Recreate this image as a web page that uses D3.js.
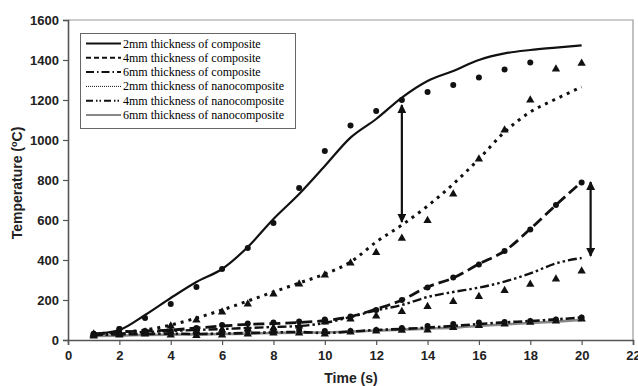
<!DOCTYPE html>
<html>
<head>
<meta charset="utf-8">
<script src="https://cdn.jsdelivr.net/npm/d3@7"></script>
<style>
  body { margin: 0; background: #fff; }
  svg { display: block; }
</style>
</head>
<body>
<svg id="chart"></svg>
<script>
// time steps (s)
const times = [1, 2, 3, 4, 5, 6, 7, 8, 9, 10, 11, 12, 13, 14, 15, 16, 17, 18, 19, 20];

// model curves (°C)
const comp2mm = [30, 50, 125, 210, 290, 355, 465, 605, 730, 870, 1012, 1105, 1212, 1295, 1345, 1400, 1433, 1450, 1462, 1473];
const nano2mm = [30, 40, 50, 75, 110, 150, 195, 240, 285, 330, 390, 490, 575, 670, 780, 905, 1040, 1140, 1205, 1265];
const comp4mm = [30, 40, 45, 50, 60, 70, 78, 82, 88, 97, 117, 155, 200, 265, 310, 380, 445, 555, 675, 790];
const nano4mm = [28, 32, 40, 45, 50, 55, 60, 65, 70, 85, 115, 148, 175, 215, 240, 262, 292, 333, 383, 410];
const comp6mm = [25, 28, 30, 32, 30, 32, 35, 38, 40, 35, 42, 50, 55, 62, 70, 80, 88, 95, 103, 113];
const nano6mm = [20, 22, 25, 27, 28, 30, 32, 35, 37, 38, 42, 47, 52, 57, 62, 70, 78, 85, 92, 100];

// measured points (°C)
const expComp2mm = [30, 55, 110, 180, 265, 355, 460, 585, 760, 945, 1072, 1145, 1200, 1240, 1275, 1313, 1353, 1387];
const expNano2mm = [30, 35, 40, 70, 100, 140, 180, 230, 280, 325, 385, 437, 508, 597, 730, 905, 1050, 1200, 1355, 1383];
const expComp4mm = [30, 55, 45, 45, 60, 75, 82, 88, 92, 103, 118, 150, 200, 263, 312, 378, 445, 553, 675, 788];
const expNano4mm = [25, 30, 35, 40, 45, 50, 55, 60, 70, 90, 105, 120, 142, 167, 192, 217, 247, 278, 305, 345];
const expComp6mm = [30, 35, 40, 35, 40, 45, 48, 50, 50, 45, 45, 50, 60, 70, 80, 87, 90, 95, 103, 113];
const expNano6mm = [20, 25, 30, 25, 22, 25, 30, 35, 35, 30, 40, 45, 48, 50, 62, 72, 80, 88, 95, 105];

// annotation arrows: [time, from, to]
const arrows = [[13, 1175, 590], [20.35, 790, 420]];

const xTicks = [0, 2, 4, 6, 8, 10, 12, 14, 16, 18, 20, 22];
const yTicks = [0, 200, 400, 600, 800, 1000, 1200, 1400, 1600];

const legendLabels = [
    '2mm thickness of composite',
    '4mm thickness of composite',
    '6mm thickness of composite',
    '2mm thickness of nanocomposite',
    '4mm thickness of nanocomposite',
    '6mm thickness of nanocomposite'
];

const width = 638, height = 386;
const svg = d3.select('#chart').attr('width', width).attr('height', height);

const x = d3.scaleLinear().domain([0, 22]).range([68, 633]);
const y = d3.scaleLinear().domain([0, 1600]).range([340, 20]);

// frame (top/right in light grey)
svg.append('path')
    .attr('d', `M${x(0)},${y(1600)}H${x(22)}V${y(0)}`)
    .attr('fill', 'none')
    .attr('stroke', '#999')
    .attr('stroke-width', 1.2);

// axes
const yAxis = svg.append('g')
    .attr('transform', `translate(${x(0)},0)`)
    .call(d3.axisLeft(y).tickValues(yTicks).tickFormat(d3.format('d')).tickSize(5).tickPadding(4));
const xAxis = svg.append('g')
    .attr('transform', `translate(0,${y(0)})`)
    .call(d3.axisBottom(x).tickValues(xTicks).tickFormat(d3.format('d')).tickSize(5).tickPadding(6));

[xAxis, yAxis].forEach(g => {
    g.select('.domain').attr('stroke', '#555').attr('stroke-width', 1.6);
    g.selectAll('.tick line').attr('stroke', '#555').attr('stroke-width', 1.2);
    g.selectAll('.tick text')
        .attr('fill', '#222')
        .style('font-family', 'Arial, "Liberation Sans", sans-serif')
        .style('font-weight', 'bold')
        .style('font-size', '13px');
});

// axis titles
svg.append('text')
    .attr('x', 351).attr('y', 383)
    .attr('text-anchor', 'middle')
    .style('font-family', 'Arial, "Liberation Sans", sans-serif')
    .style('font-weight', 'bold')
    .style('font-size', '14px')
    .attr('fill', '#222')
    .text('Time (s)');

const yTitle = svg.append('text')
    .attr('transform', `translate(22,${(y(0) + y(1600)) / 2 + 3}) rotate(-90)`)
    .attr('text-anchor', 'middle')
    .style('font-family', 'Arial, "Liberation Sans", sans-serif')
    .style('font-weight', 'bold')
    .style('font-size', '14px')
    .attr('fill', '#222');
yTitle.append('tspan').text('Temperature (');
yTitle.append('tspan').attr('dy', -5).style('font-size', '9px').text('o');
yTitle.append('tspan').attr('dy', 5).text('C)');

// series styles
const series = [
    {values: comp2mm, color: '#111', w: 2.2, dash: null, legendDash: null},
    {values: comp4mm, color: '#111', w: 2.8, dash: '11,5', legendDash: '5,3'},
    {values: comp6mm, color: '#111', w: 2.6, dash: '9,3,2.5,3', legendDash: '8,3,1.5,3'},
    {values: nano2mm, color: '#111', w: 3, dash: '3,5', legendDash: '1,1'},
    {values: nano4mm, color: '#111', w: 2.4, dash: '9,3,2.5,3,2.5,3', legendDash: '7,3,1.5,2,1.5,3'},
    {values: nano6mm, color: '#888', w: 2.6, dash: null, legendDash: null}
];

const line = d3.line()
    .x((d, i) => x(times[i]))
    .y(d => y(d))
    .curve(d3.curveMonotoneX);

const plot = svg.append('g');

series.slice().reverse().forEach(s => {
    plot.append('path')
        .datum(s.values)
        .attr('d', line)
        .attr('fill', 'none')
        .attr('stroke', s.color)
        .attr('stroke-width', s.w)
        .attr('stroke-dasharray', s.dash);
});

// markers
const circleSets = [expComp2mm, expComp4mm, expComp6mm];
const triangleSets = [expNano2mm, expNano4mm, expNano6mm];
const tri = d3.symbol().type(d3.symbolTriangle).size(30);

circleSets.forEach(set => {
    plot.append('g').selectAll('circle')
        .data(set)
        .enter()
        .append('circle')
        .attr('cx', (d, i) => x(times[i]))
        .attr('cy', d => y(d))
        .attr('r', 3)
        .attr('fill', '#111');
});

triangleSets.forEach(set => {
    plot.append('g').selectAll('path')
        .data(set)
        .enter()
        .append('path')
        .attr('d', tri)
        .attr('transform', (d, i) => `translate(${x(times[i])},${y(d)})`)
        .attr('fill', '#111');
});

// double-headed arrows
const defs = svg.append('defs');
defs.append('marker')
    .attr('id', 'head')
    .attr('viewBox', '0 0 10 10')
    .attr('refX', 9).attr('refY', 5)
    .attr('markerWidth', 4.6).attr('markerHeight', 4)
    .attr('orient', 'auto-start-reverse')
    .append('path')
    .attr('d', 'M0,0L10,5L0,10Z')
    .attr('fill', '#111');

arrows.forEach(a => {
    svg.append('line')
        .attr('x1', x(a[0])).attr('x2', x(a[0]))
        .attr('y1', y(a[1])).attr('y2', y(a[2]))
        .attr('stroke', '#111')
        .attr('stroke-width', 2.2)
        .attr('marker-start', 'url(#head)')
        .attr('marker-end', 'url(#head)');
});

// legend
const legend = svg.append('g');
legend.append('rect')
    .attr('x', 80.5).attr('y', 33.5)
    .attr('width', 215).attr('height', 95)
    .attr('fill', '#fff')
    .attr('stroke', '#666')
    .attr('stroke-width', 1);

legendLabels.forEach((label, i) => {
    const s = series[i];
    const ly = 43.5 + i * 14.3;
    legend.append('line')
        .attr('x1', 86).attr('x2', 121)
        .attr('y1', ly).attr('y2', ly)
        .attr('stroke', s.color)
        .attr('stroke-width', i === 3 ? 1 : 2)
        .attr('stroke-dasharray', s.legendDash);
    legend.append('text')
        .attr('x', 123).attr('y', ly + 4)
        .style('font-family', '"Liberation Serif", "Times New Roman", serif')
        .style('font-size', '12px')
        .attr('fill', '#000')
        .text(label);
});
</script>
</body>
</html>
